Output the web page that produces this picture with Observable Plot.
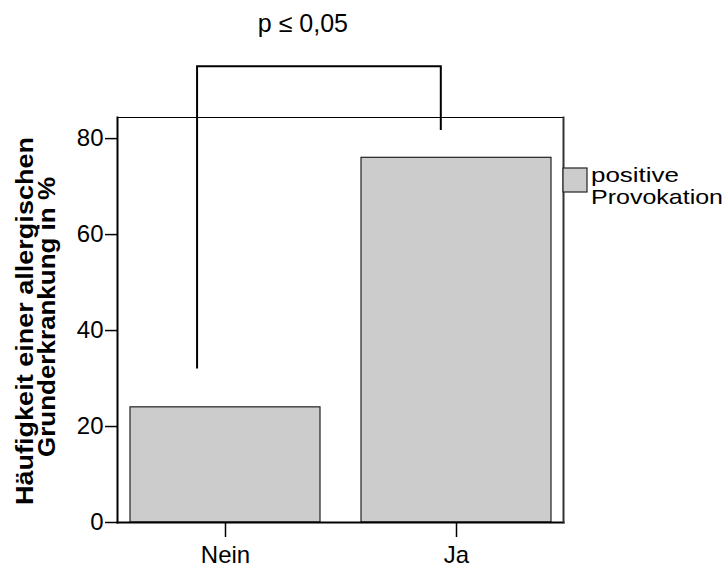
<!DOCTYPE html>
<html><head><meta charset="utf-8">
<script src="https://cdn.jsdelivr.net/npm/d3@7"></script>
<script src="https://cdn.jsdelivr.net/npm/@observablehq/plot@0.6"></script>
<style>
body{margin:0;background:#fff}
#chart svg{font-family:"Liberation Sans",Arial,sans-serif}
</style>
</head><body><div id="chart"></div>
<script>
// ---- data ----
const categories = ["Nein", "Ja"];
const values = [24, 76];
const yTicks = [0, 20, 40, 60, 80];
const seriesLabel = ["positive", "Provokation"];
const yLabel = ["Häufigkeit einer allergischen", "Grunderkrankung in %"];
const pLabel = "p ≤ 0,05";
const bracketEnds = [32, 81.7];   // lower ends of bracket legs (y values)
const bracketTop = 95;            // top of bracket (y value)

const data = categories.map((c, i) => ({cat: c, value: values[i]}));
const font = "'Liberation Sans', Arial, sans-serif";

const plot = Plot.plot({
  width: 728, height: 568,
  marginLeft: 117, marginRight: 165, marginTop: 117, marginBottom: 46,
  style: {fontFamily: font, fontSize: "24px", background: "#fff", color: "#000", overflow: "visible"},
  x: {domain: categories, paddingInner: 0.178, paddingOuter: 0.054, label: null},
  y: {domain: [0, 84.4], label: null},
  marks: [
    Plot.barY(data, {x: "cat", y: "value", fill: "#cccccc", stroke: "#222", strokeWidth: 1.2}),
    Plot.frame({stroke: "#000", strokeWidth: 1}),
    Plot.frame({anchor: "left", stroke: "#000", strokeWidth: 2}),
    Plot.frame({anchor: "bottom", stroke: "#000", strokeWidth: 2}),
    Plot.frame({anchor: "right", stroke: "#333", strokeWidth: 2}),
    Plot.axisY({ticks: yTicks, tickSize: 12, tickPadding: 2, fontSize: 24, strokeWidth: 1.5, tickFormat: d => String(d)}),
    Plot.axisX({tickSize: 15, tickPadding: 8, fontSize: 24, strokeWidth: 1.5})
  ]
});
document.getElementById("chart").appendChild(plot);

// ---- annotations using the plot scales ----
const svg = d3.select(plot);
const sx = plot.scale("x"), sy = plot.scale("y");
const bw = sx.bandwidth;
const xl = sx.apply(categories[0]) + bw * 0.353;
const xr = sx.apply(categories[1]) + bw * 0.42;
svg.append("path")
  .attr("d", `M${xl},${sy.apply(bracketEnds[0])}V${sy.apply(bracketTop)}H${xr}V${sy.apply(bracketEnds[1])}`)
  .attr("fill", "none").attr("stroke", "#000").attr("stroke-width", 2);

svg.append("text")
  .attr("x", (xl + xr) / 2 - 16).attr("y", 32)
  .attr("text-anchor", "middle")
  .attr("font-size", 25).attr("font-family", font)
  .text(pLabel);

// y-axis label (two lines, bold, rotated)
const yl = svg.append("g").attr("font-weight", "bold").attr("font-size", 24).attr("font-family", font);
const lineSpecs = [
  {x: 33, cy: 321, len: 368},
  {x: 55, cy: 317, len: 280}
];
yLabel.forEach((t, i) => {
  const s = lineSpecs[i];
  yl.append("text")
    .attr("transform", `translate(${s.x},${s.cy}) rotate(-90)`)
    .attr("text-anchor", "middle")
    .attr("textLength", s.len).attr("lengthAdjust", "spacingAndGlyphs")
    .text(t);
});

// legend
const lg = svg.append("g").attr("font-family", font).attr("font-size", 21).attr("text-anchor", "start");
lg.append("rect").attr("x", 563).attr("y", 168).attr("width", 24).attr("height", 24)
  .attr("fill", "#cccccc").attr("stroke", "#222").attr("stroke-width", 1.2);
const legendLens = [88, 132];
seriesLabel.forEach((t, i) => {
  lg.append("text").attr("x", 591).attr("y", 182 + i * 22)
    .attr("text-anchor", "start")
    .attr("textLength", legendLens[i]).attr("lengthAdjust", "spacingAndGlyphs")
    .text(t);
});
</script>
</body></html>
